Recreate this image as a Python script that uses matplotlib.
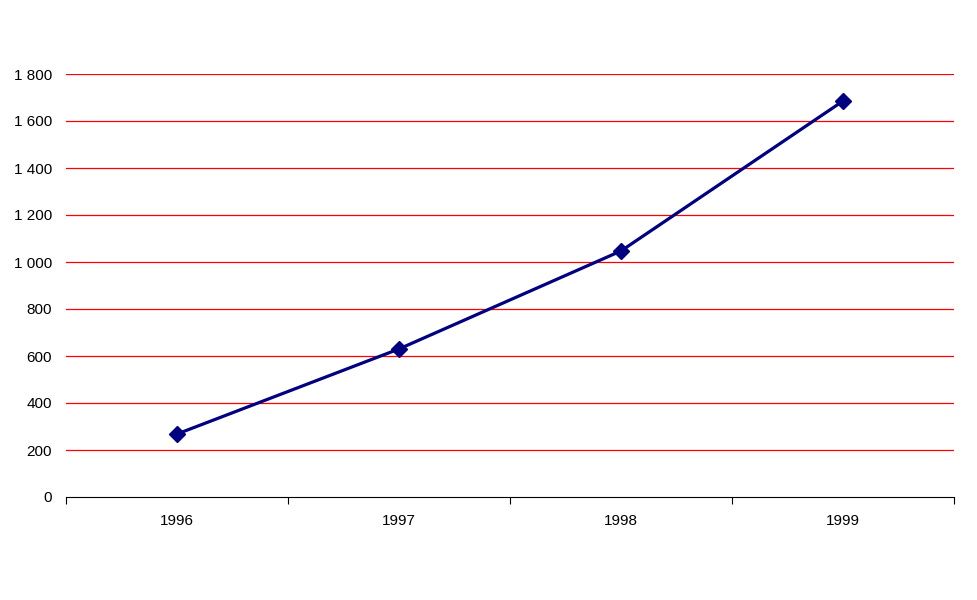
import matplotlib.pyplot as plt
import numpy as np

years = ['1996', '1997', '1998', '1999']
values = [268, 630, 1047, 1685]
yticks = [0, 200, 400, 600, 800, 1000, 1200, 1400, 1600, 1800]
ylabels = ['0', '200', '400', '600', '800', '1 000', '1 200', '1 400', '1 600', '1 800']

plt.rcParams['font.family'] = ['Liberation Sans', 'DejaVu Sans']

fig = plt.figure(figsize=(9.77, 6), dpi=100)
ax = fig.add_axes([66/977, 103/600, 888/977, 423/600])

x = np.arange(len(years))
ax.plot(x, values, '-', color='#000080', lw=2.3, marker='D', ms=8, zorder=3)

ax.set_xlim(-0.5, len(years) - 0.5)
ax.set_ylim(0, 1800)
ax.set_yticks(yticks)
ax.set_yticklabels(ylabels, fontsize=11)
for y in yticks[1:]:
    ax.axhline(y, color='red', lw=0.9, zorder=1)

# category boundaries as ticks, labels centered
ax.set_xticks(np.arange(-0.5, len(years)))
ax.set_xticklabels([])
ax.set_xticks(x, minor=True)
ax.set_xticklabels(years, minor=True, fontsize=11)
ax.tick_params(axis='x', which='major', length=5, width=0.8, direction='out')
ax.tick_params(axis='x', which='minor', length=0, pad=12)
ax.tick_params(axis='y', length=0, pad=10)

for s in ['top', 'right', 'left']:
    ax.spines[s].set_visible(False)
ax.spines['bottom'].set_linewidth(0.8)

fig.savefig('out.png', dpi=100)
